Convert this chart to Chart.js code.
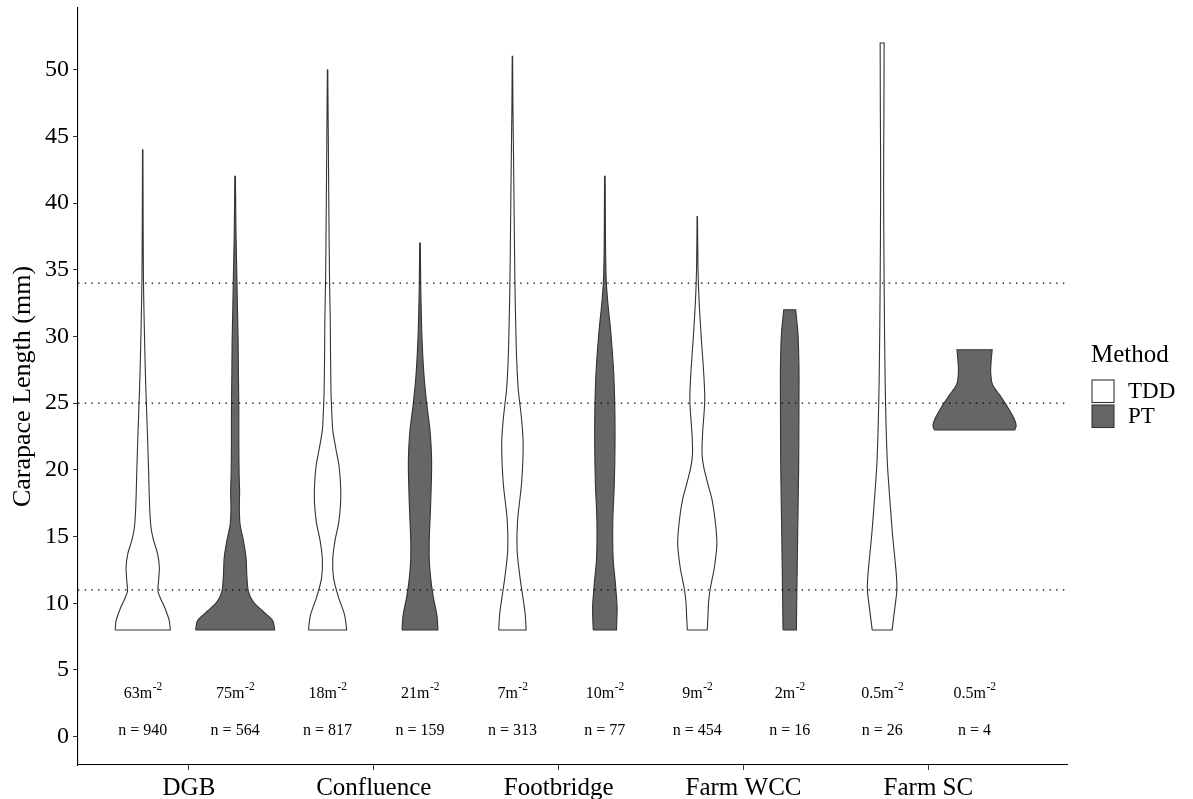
<!DOCTYPE html>
<html>
<head>
<meta charset="utf-8">
<script src="https://cdn.jsdelivr.net/npm/chart.js@4.4.0/dist/chart.umd.min.js"></script>
<style>
html,body{margin:0;padding:0;background:#ffffff;}
#wrap{width:1193px;height:799px;}
</style>
</head>
<body>
<div id="wrap"><canvas id="c" width="1193" height="799"></canvas></div>
<script>
// ---------- data ----------
const categories = ["DGB", "Confluence", "Footbridge", "Farm WCC", "Farm SC"];
const methods = ["TDD", "PT"];
const densityPerM2 = [63, 75, 18, 21, 7, 10, 9, 2, 0.5, 0.5];
const sampleSizes = [940, 564, 817, 159, 313, 77, 454, 16, 26, 4];
const referenceLines = [11, 25, 34];
const yTickValues = [0, 5, 10, 15, 20, 25, 30, 35, 40, 45, 50];

// violin profiles: carapace length (mm) and kernel density (relative units)
const dgbTddLength = [8, 8.7, 9.7, 10.4, 10.9, 11.7, 12.7, 13.7, 14.7, 15.7, 17.2, 19.7, 22.2, 24.7, 27.2, 29.7, 32.2, 34, 37.2, 40.5, 44];
const dgbTddDensity = [27.7, 26.7, 22, 17.7, 15.3, 16, 16.7, 15, 11, 8.3, 7, 6, 5, 3.8, 2.7, 1.9, 1.2, 0.8, 0.5, 0.35, 0.2];
const dgbPtLength = [8, 8.7, 9.4, 10.1, 10.9, 12.2, 13.4, 14.7, 15.9, 17.2, 18.4, 19.7, 22.2, 24.7, 27.2, 29.7, 32.2, 34.7, 37.2, 39.7, 42];
const dgbPtDensity = [39.7, 37.7, 28, 18.3, 13.3, 11.7, 11, 8.3, 5, 4.2, 4.5, 4, 3.7, 3.7, 3.3, 3, 2.3, 1.7, 1, 0.6, 0.3];
const confluenceTddLength = [8, 9.1, 10.5, 11.9, 13.3, 14.7, 16.1, 18.0, 20.2, 21.6, 23.0, 24.4, 25.8, 28.5, 31.3, 34.1, 39.6, 42.4, 45.2, 50];
const confluenceTddDensity = [19.2, 17.2, 10.8, 6, 5.2, 7.5, 11.3, 13.3, 11.7, 8.3, 5.2, 4.2, 3.5, 3, 2.7, 2, 1.3, 1, 0.7, 0.2];
const confluencePtLength = [8, 9.1, 10.5, 11.9, 13.3, 14.7, 17.4, 20.2, 21.6, 23.0, 25.0, 27.1, 29.9, 32.7, 34.1, 37];
const confluencePtDensity = [18, 17, 13.3, 10.7, 9.3, 9.3, 10.7, 11.7, 11.3, 10, 6.7, 4, 2, 1, 0.7, 0.3];
const footbridgeTddLength = [8, 9.2, 10.3, 12.0, 14.0, 16.2, 19.0, 21.9, 23.8, 26.1, 28.4, 30.3, 34, 38.8, 43, 47.3, 51];
const footbridgeTddDensity = [13.8, 12.8, 10.8, 7.5, 4.7, 5.2, 9.2, 10.8, 9.2, 5.8, 4.2, 3.5, 2.5, 1.8, 1.2, 0.5, 0.2];
const footbridgePtLength = [8, 9.7, 11.4, 13.4, 16.2, 19.0, 21.9, 24.7, 27.5, 30.3, 32.3, 34, 36, 38.8, 42];
const footbridgePtDensity = [11.7, 12.3, 10.7, 8.3, 8, 9.5, 10.2, 10, 8.7, 6, 3.3, 1.5, 0.8, 0.5, 0.3];
const farmWccTddLength = [8, 9.0, 10.2, 11.2, 12.7, 14.5, 16.2, 17.7, 18.9, 20.2, 21.2, 22.7, 25.2, 27.2, 29.7, 32.7, 35.2, 39];
const farmWccTddDensity = [10, 10.7, 11.5, 13.3, 17.2, 19.7, 18, 15, 10.8, 6.5, 4.8, 5.3, 7.5, 6.5, 4.2, 1.8, 0.7, 0.2];
const farmWccPtLength = [8, 11.4, 15.2, 20.2, 25.2, 27.7, 30.2, 32];
const farmWccPtDensity = [6.7, 7.3, 8, 9, 9.3, 9.3, 8.3, 6];
const farmScTddLength = [8, 9.8, 11, 12.2, 15.1, 18.0, 20.9, 26.7, 34, 41.3, 47.1, 52];
const farmScTddDensity = [10, 13, 14.8, 14.2, 10.5, 7.5, 5, 3, 2, 1.5, 1.8, 2.0];
const farmScPtLength = [23, 23.3, 23.8, 24.7, 25.6, 26.4, 27.3, 28.2, 29];
const farmScPtDensity = [40.5, 41.8, 40, 33.3, 25.3, 18, 16.2, 16.7, 17.7];

const violinProfiles = [
  [dgbTddLength, dgbTddDensity], [dgbPtLength, dgbPtDensity],
  [confluenceTddLength, confluenceTddDensity], [confluencePtLength, confluencePtDensity],
  [footbridgeTddLength, footbridgeTddDensity], [footbridgePtLength, footbridgePtDensity],
  [farmWccTddLength, farmWccTddDensity], [farmWccPtLength, farmWccPtDensity],
  [farmScTddLength, farmScTddDensity], [farmScPtLength, farmScPtDensity]
];

// ---------- layout / style ----------
const FONT = '"Liberation Serif", "Times New Roman", serif';
const X_MIN = 0.4, X_MAX = 5.75;
const DODGE = 0.25;          // half of the dodge distance
const HALF_WIDTH = 0.225;    // max half width of a violin (x units)
const FILLS = ['#ffffff', '#666666'];
const DENSITY_MAX = Math.max(...violinProfiles.map(p => Math.max(...p[1])));

Chart.defaults.font.family = FONT;
Chart.defaults.color = '#000';

function violinPolygon(center, len, den) {
  const k = HALF_WIDTH / DENSITY_MAX;
  const left = len.map((v, j) => ({x: center - den[j] * k, y: v}));
  const right = len.map((v, j) => ({x: center + den[j] * k, y: v})).reverse();
  return [left[0], ...left, left[left.length - 1], right[0], ...right, right[right.length - 1], left[0]];
}

const datasets = [];
referenceLines.forEach(v => {
  datasets.push({
    type: 'line',
    label: 'ref' + v,
    data: [{x: X_MIN, y: v}, {x: X_MAX, y: v}],
    borderColor: '#000',
    borderWidth: 1.1,
    borderDash: [1.4, 5.3],
    pointRadius: 0,
    fill: false,
    order: 0
  });
});
violinProfiles.forEach((p, i) => {
  const cat = Math.floor(i / 2);
  const m = i % 2;
  const center = (cat + 1) + (m === 0 ? -DODGE : DODGE);
  datasets.push({
    type: 'line',
    label: categories[cat] + ' ' + methods[m],
    data: violinPolygon(center, p[0], p[1]),
    borderColor: '#333333',
    borderWidth: 1.1,
    backgroundColor: FILLS[m],
    fill: 'shape',
    tension: 0.3,
    pointRadius: 0,
    order: 1
  });
});

const annotations = {
  id: 'violinAnnotations',
  afterDatasetsDraw(chart) {
    const {ctx, scales: {x, y}, chartArea} = chart;
    ctx.save();
    ctx.fillStyle = '#000';
    const yDens = y.getPixelForValue(3.2);
    const yN = y.getPixelForValue(0.45);
    for (let i = 0; i < densityPerM2.length; i++) {
      const cat = Math.floor(i / 2);
      const center = (cat + 1) + (i % 2 === 0 ? -DODGE : DODGE);
      const cx = x.getPixelForValue(center);
      const base = densityPerM2[i] + 'm';
      const sup = '-2';
      ctx.font = '16px ' + FONT;
      const wb = ctx.measureText(base).width;
      ctx.font = '11.5px ' + FONT;
      const ws = ctx.measureText(sup).width;
      const start = cx - (wb + ws) / 2;
      ctx.textBaseline = 'middle';
      ctx.textAlign = 'left';
      ctx.font = '16px ' + FONT;
      ctx.fillText(base, start, yDens);
      ctx.font = '11.5px ' + FONT;
      ctx.fillText(sup, start + wb + 0.5, yDens - 6.5);
      ctx.font = '16px ' + FONT;
      ctx.textAlign = 'center';
      ctx.fillText('n = ' + sampleSizes[i], cx, yN);
    }
    // legend
    const lx = chartArea.right + 24;
    const cy = (chartArea.top + chartArea.bottom) / 2;
    ctx.textAlign = 'left';
    ctx.textBaseline = 'middle';
    ctx.font = '25px ' + FONT;
    ctx.fillText('Method', lx, cy - 31);
    ctx.strokeStyle = '#333333';
    ctx.lineWidth = 1.1;
    const boxTops = [cy - 6.5, cy + 18.5];
    methods.forEach((m, j) => {
      ctx.fillStyle = FILLS[j];
      ctx.fillRect(lx + 1, boxTops[j], 22, 22.5);
      ctx.strokeRect(lx + 1, boxTops[j], 22, 22.5);
      ctx.fillStyle = '#000';
      ctx.font = '23px ' + FONT;
      ctx.fillText(m, lx + 37, boxTops[j] + 12);
    });
    ctx.restore();
  }
};

new Chart(document.getElementById('c'), {
  type: 'line',
  data: {datasets},
  options: {
    responsive: false,
    devicePixelRatio: 1,
    animation: false,
    events: [],
    layout: {padding: {left: 0, right: 126, top: 8, bottom: 0}},
    plugins: {legend: {display: false}, tooltip: {enabled: false}},
    scales: {
      x: {
        type: 'linear',
        min: X_MIN,
        max: X_MAX,
        afterBuildTicks: s => { s.ticks = categories.map((c, i) => ({value: i + 1})); },
        afterFit: s => { s.height = 34; s.paddingLeft = 0; s.paddingRight = 0; },
        ticks: {
          callback: v => categories[Math.round(v) - 1] || '',
          autoSkip: false, maxRotation: 0, minRotation: 0,
          font: {size: 25}, color: '#000', padding: 3
        },
        grid: {display: true, drawOnChartArea: false, drawTicks: true, tickLength: 5, color: '#333333', lineWidth: 1},
        border: {display: true, color: '#000', width: 1.1}
      },
      y: {
        type: 'linear',
        min: -2.125,
        max: 54.625,
        afterBuildTicks: s => { s.ticks = yTickValues.map(v => ({value: v})); },
        afterFit: s => { s.width = 78; s.paddingTop = 0; s.paddingBottom = 0; },
        ticks: {font: {size: 24}, color: '#000', padding: 4},
        grid: {display: true, drawOnChartArea: false, drawTicks: true, tickLength: 5, color: '#333333', lineWidth: 1},
        border: {display: true, color: '#000', width: 1.1},
        title: {display: true, text: 'Carapace Length (mm)', font: {size: 26}, color: '#000', padding: {top: 8, bottom: 0}}
      }
    }
  },
  plugins: [annotations]
});
</script>
</body>
</html>
